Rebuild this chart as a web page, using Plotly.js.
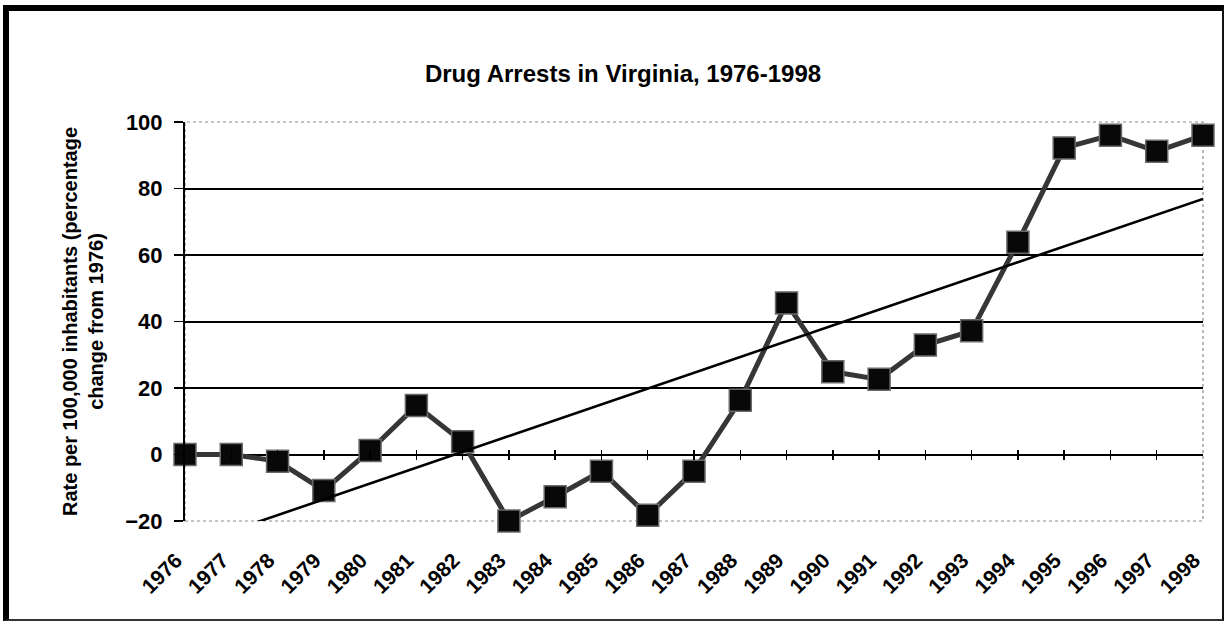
<!DOCTYPE html>
<html>
<head>
<meta charset="utf-8">
<script src="https://cdn.plot.ly/plotly-3.0.1.min.js"></script>
<style>
  html, body { margin: 0; padding: 0; background: #fff; }
  #chart { position: absolute; left: 0; top: 0; width: 1225px; height: 624px; }
  #frame {
    position: absolute; left: 3px; top: 5px;
    width: 1213px; height: 608px;
    border-left: 6px solid #000; border-top: 6px solid #000;
    border-right: 2px solid #111; border-bottom: 2px solid #333;
    pointer-events: none;
  }
</style>
</head>
<body>
<div id="chart"></div>
<div id="frame"></div>
<script>
// ---- data ----
const years = ['1976','1977','1978','1979','1980','1981','1982','1983','1984','1985','1986','1987',
               '1988','1989','1990','1991','1992','1993','1994','1995','1996','1997','1998'];
const arrestChange = [0, 0, -2, -10.8, 1.2, 14.7, 3.8, -20, -12.7, -5, -18.3, -5,
                      16.3, 45.6, 24.9, 22.6, 32.9, 37.2, 63.8, 92.2, 96, 91.2, 96];
const yTickVals = [-20, 0, 20, 40, 60, 80, 100];
const gridVals = [20, 40, 60, 80];
const chartTitle = 'Drug Arrests in Virginia, 1976-1998';
const yTitle = 'Rate per 100,000 inhabitants (percentage<br>change from 1976)';

// ---- linear trendline (least squares over category index) ----
const idx = years.map((_, i) => i);
const n = idx.length;
const mx = idx.reduce((a, b) => a + b, 0) / n;
const my = arrestChange.reduce((a, b) => a + b, 0) / n;
let sxy = 0, sxx = 0;
idx.forEach((x, i) => { sxy += (x - mx) * (arrestChange[i] - my); sxx += (x - mx) * (x - mx); });
const slope = sxy / sxx;
const intercept = my - slope * mx;
const trend = idx.map(x => intercept + slope * x);

const FONT = '"Liberation Sans", Arial, Helvetica, sans-serif';
const yMin = -20, yMax = 100;
const plotH = 624 - 122 - 103;
const zeroPos = (0 - yMin) / (yMax - yMin) - 5 / plotH;

const traces = [
  {
    x: idx, y: trend, xaxis: 'x2', yaxis: 'y2',
    type: 'scatter', mode: 'lines',
    line: { color: '#000', width: 2.6 },
    hoverinfo: 'skip', showlegend: false
  },
  {
    x: years, y: arrestChange, xaxis: 'x', yaxis: 'y',
    type: 'scatter', mode: 'lines+markers',
    line: { color: '#363636', width: 5 },
    marker: { symbol: 'square', size: 22, color: '#080808', line: { color: '#6a6a6a', width: 1.5 } },
    cliponaxis: false,
    showlegend: false
  }
];

const layout = {
  width: 1225, height: 624,
  margin: { l: 185, r: 22, t: 122, b: 103 },
  paper_bgcolor: '#fff', plot_bgcolor: '#fff',
  font: { family: FONT, color: '#000' },
  showlegend: false,
  title: {
    text: chartTitle,
    font: { family: FONT, size: 24, weight: 'bold', color: '#000' },
    xref: 'container', x: 623 / 1225, xanchor: 'center',
    yref: 'container', y: 1 - 74 / 624, yanchor: 'middle'
  },
  xaxis: {
    type: 'category', categoryorder: 'array', categoryarray: years,
    range: [0, years.length - 1], autorange: false,
    showgrid: false, zeroline: false, showline: false, ticks: '',
    tickangle: -45,
    tickfont: { family: FONT, size: 21, weight: 'bold', color: '#000' },
    ticklabelstandoff: 22,
    ticklabelshift: -9
  },
  xaxis2: {
    type: 'linear', overlaying: 'x', anchor: 'free', position: zeroPos,
    range: [0, years.length - 1], autorange: false,
    tickmode: 'array', tickvals: idx, showticklabels: false,
    ticks: 'inside', ticklen: 10, tickwidth: 1.5, tickcolor: '#000',
    showgrid: false, zeroline: false, showline: false
  },
  yaxis: {
    range: [yMin, yMax], autorange: false,
    tickmode: 'array', tickvals: yTickVals,
    ticks: 'outside', ticklen: 9, tickwidth: 1.5, tickcolor: '#000',
    showline: true, linecolor: '#000', linewidth: 2,
    showgrid: false,
    zeroline: true, zerolinecolor: '#000', zerolinewidth: 2,
    tickfont: { family: FONT, size: 22, weight: 'bold', color: '#000' },
    ticklabelstandoff: 7,
    title: {
      text: yTitle,
      font: { family: FONT, size: 20, weight: 'bold', color: '#000' },
      standoff: 16
    }
  },
  yaxis2: {
    overlaying: 'y', anchor: 'x',
    range: [yMin, yMax], autorange: false,
    tickmode: 'array', tickvals: gridVals, showticklabels: false, ticks: '',
    showgrid: true, gridcolor: '#000', gridwidth: 2,
    zeroline: false, showline: false
  },
  shapes: [
    {
      type: 'rect', xref: 'paper', yref: 'paper', x0: 0, x1: 1, y0: 0, y1: 1,
      line: { color: '#8a8a8a', width: 1.2, dash: 'dot' }, layer: 'below'
    }
  ]
};

Plotly.newPlot('chart', traces, layout, { staticPlot: true, displayModeBar: false });
</script>
</body>
</html>
